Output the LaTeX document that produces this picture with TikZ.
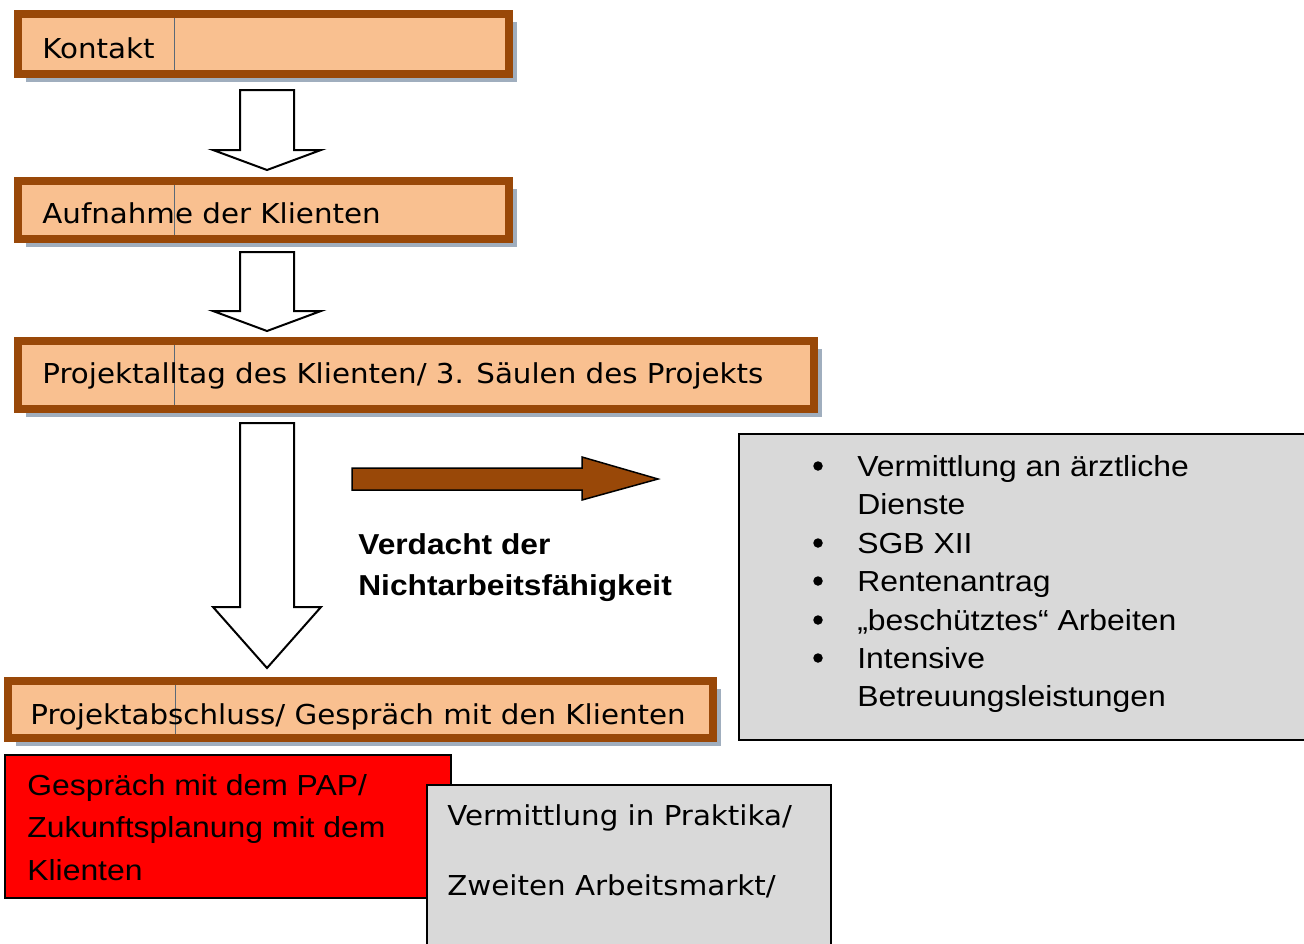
\documentclass[tikz,border=0pt]{standalone}
\usepackage{fontspec}
\usetikzlibrary{fit,shadows}
\newfontfamily\arialfont[FakeStretch=1.1]{Liberation Sans}
\newfontfamily\verdfont[FakeStretch=1.07]{DejaVu Sans}
\definecolor{boxfill}{RGB}{249,192,144}
\definecolor{boxrim}{RGB}{153,72,8}
\definecolor{rimshade}{RGB}{160,174,190}
\definecolor{panelgray}{RGB}{217,217,217}
\definecolor{gridgray}{RGB}{90,105,120}

\begin{document}
\begin{tikzpicture}[x=0.02cm, y=-0.02cm,
	stage/.style={draw=boxrim, fill=boxfill, line width=0.16cm, inner sep=0pt,
		drop shadow={shadow xshift=0.16cm, shadow yshift=-0.16cm, fill=rimshade, opacity=1}},
	stagetext/.style={anchor=base west, inner sep=0pt, font=\verdfont\fontsize{15.6}{19}\selectfont},
	panel/.style={draw=black, fill=panelgray, line width=0.03cm, inner sep=0pt},
	listtext/.style={anchor=base west, inner sep=0pt, font=\arialfont\fontsize{16.5}{20}\selectfont},
	boldtext/.style={anchor=base west, inner sep=0pt, font=\arialfont\bfseries\fontsize{16.4}{20}\selectfont},
	dot/.style={circle, fill=black, inner sep=0pt, minimum size=0.19cm},
	hollow/.style={draw=black, fill=white, line width=0.04cm, line join=miter},
	gridline/.style={gridgray, line width=0.4pt}]
	\useasboundingbox (0,0) rectangle (1304,943);

	% stages
	\node[stage, fit={(18,14) (509,74)}] (kontakt) {};
	\node[stage, fit={(18,181) (509,239)}] (aufnahme) {};
	\node[stage, fit={(18,341) (814,409)}] (alltag) {};
	\node[stage, fit={(8,681) (713,738)}] (abschluss) {};
	\draw[gridline] (174,18) -- (174,70);
	\draw[gridline] (174,185) -- (174,235);
	\draw[gridline] (174,345) -- (174,405);
	\draw[gridline] (175,685) -- (175,734);
	\node[stagetext] (kontakttext) at (42,58) {Kontakt};
	\node[stagetext] (aufnahmetext) at (42,223) {Aufnahme der Klienten};
	\node[stagetext] (alltagtext) at (42,383) {Projektalltag des Klienten/ 3. Säulen des Projekts};
	\node[stagetext] (abschlusstext) at (30,724) {Projektabschluss/ Gespräch mit den Klienten};

	% block arrows
	\draw[hollow] (240,90) -- (294,90) -- (294,150) -- (321,150) -- (267,170) -- (213,150) -- (240,150) -- cycle;
	\draw[hollow] (240,252) -- (294,252) -- (294,311) -- (321,311) -- (267,331) -- (213,311) -- (240,311) -- cycle;
	\draw[hollow] (240,423) -- (294,423) -- (294,607) -- (321,607) -- (267,668) -- (213,607) -- (240,607) -- cycle;
	\draw[fill=boxrim, draw=black, line width=0.03cm] (352,468) -- (582,468) -- (582,457) -- (658,479)
		-- (582,500) -- (582,490) -- (352,490) -- cycle;

	\node[boldtext] (verdacht1) at (358,554) {Verdacht der};
	\node[boldtext] (verdacht2) at (358,595) {Nichtarbeitsfähigkeit};

	% right panel
	\node[panel, fit={(739,434) (1320,740)}] (dienste) {};
	\node[dot] (d1) at (818,466) {};
	\node[dot] (d2) at (818,543) {};
	\node[dot] (d3) at (818,581) {};
	\node[dot] (d4) at (818,620) {};
	\node[dot] (d5) at (818,658) {};
	\node[listtext] (l1) at (857,476) {Vermittlung an ärztliche};
	\node[listtext] (l2) at (857,514) {Dienste};
	\node[listtext] (l3) at (857,553) {SGB XII};
	\node[listtext] (l4) at (857,591) {Rentenantrag};
	\node[listtext] (l5) at (857,630) {„beschütztes“ Arbeiten};
	\node[listtext] (l6) at (857,668) {Intensive};
	\node[listtext] (l7) at (857,706) {Betreuungsleistungen};

	% bottom boxes
	\node[draw=black, fill=red, line width=0.04cm, inner sep=0pt, fit={(5,755) (451,898)}] (pap) {};
	\node[listtext] (pap1) at (27,795) {Gespräch mit dem PAP/};
	\node[listtext] (pap2) at (27,837) {Zukunftsplanung mit dem};
	\node[listtext] (pap3) at (27,880) {Klienten};
	\node[panel, line width=0.04cm, fit={(427,785) (831,960)}] (praktika) {};
	\node[stagetext] (praktika1) at (447,825) {Vermittlung in Praktika/};
	\node[stagetext] (praktika2) at (447,895) {Zweiten Arbeitsmarkt/};
\end{tikzpicture}
\end{document}
